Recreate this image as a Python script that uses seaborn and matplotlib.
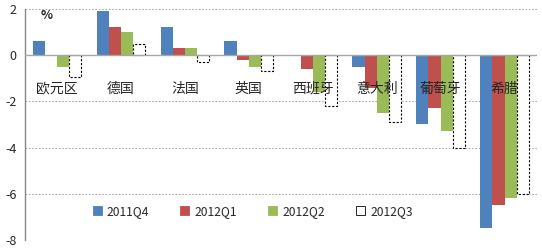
import matplotlib
matplotlib.use("Agg")
import matplotlib.pyplot as plt
import seaborn as sns
import pandas as pd
from matplotlib.patches import Patch

regions = ["欧元区", "德国", "法国", "英国", "西班牙", "意大利", "葡萄牙", "希腊"]
quarters = ["2011Q4", "2012Q1", "2012Q2", "2012Q3"]
q2011q4 = [0.6, 1.9, 1.2, 0.6, 0.0, -0.5, -3.0, -7.5]
q2012q1 = [0.0, 1.2, 0.3, -0.2, -0.6, -1.4, -2.3, -6.5]
q2012q2 = [-0.5, 1.0, 0.3, -0.5, -1.6, -2.5, -3.3, -6.2]
q2012q3 = [-0.95, 0.5, -0.3, -0.7, -2.2, -2.9, -4.0, -6.0]
yticks = [2, 0, -2, -4, -6, -8]

series = [q2011q4, q2012q1, q2012q2, q2012q3]
rows = []
for q, vals in zip(quarters, series):
    for r, v in zip(regions, vals):
        rows.append({"region": r, "quarter": q, "value": v})
df = pd.DataFrame(rows)

sns.set_style("white")
plt.rcParams["font.family"] = ["Noto Sans CJK SC", "DejaVu Sans"]

colors = ["#4F81BD", "#C0504D", "#9BBB59", "#FFFFFF"]

fig = plt.figure(figsize=(5.42, 2.49), dpi=100)
ax = fig.add_axes([0.046, 0.036, 0.944, 0.928])

sns.barplot(data=df, x="region", y="value", hue="quarter", order=regions,
            hue_order=quarters, palette=colors, width=0.76, ax=ax,
            saturation=1, linewidth=0, legend=False)

# style Q3 bars: white fill, dashed black outline
for cont, q in zip(ax.containers, quarters):
    if q == "2012Q3":
        for p in cont:
            p.set_facecolor("white")
            p.set_edgecolor("black")
            p.set_linestyle((0, (2, 1.5)))
            p.set_linewidth(0.8)

ax.set_ylim(-8, 2)
ax.set_xlim(-0.5, len(regions) - 0.5)
ax.set_yticks(yticks)
ax.set_yticklabels([str(t) for t in yticks], fontsize=9)
ax.tick_params(axis="y", length=0, pad=6)
ax.set_xticks([])
ax.set_xlabel("")
ax.set_ylabel("")

for t in yticks:
    if t != 0:
        ax.axhline(t, color="#9a9a9a", lw=0.6, ls=(0, (2, 2)), zorder=0)
ax.axhline(0, color="#a6a6a6", lw=1.0, zorder=3)

for s in ["top", "right", "bottom"]:
    ax.spines[s].set_visible(False)
ax.spines["left"].set_color("#888888")
ax.spines["left"].set_linewidth(1.0)

for i, r in enumerate(regions):
    ax.text(i, -1.45, r, ha="center", va="center", fontsize=10, zorder=5)

ax.text(0.03, 1.72, "%", fontsize=9, fontweight="bold", ha="left", va="center",
        transform=ax.get_yaxis_transform())

handles = [Patch(facecolor=c, edgecolor=("black" if c == "#FFFFFF" else c), lw=0.6)
           for c in colors]
ax.legend(handles, quarters, loc="center", bbox_to_anchor=(0.445, 0.125), ncol=4,
          frameon=False, fontsize=8.7, handlelength=0.75, handleheight=0.75,
          columnspacing=2.6, handletextpad=0.4)

fig.savefig("out.png", dpi=100)
